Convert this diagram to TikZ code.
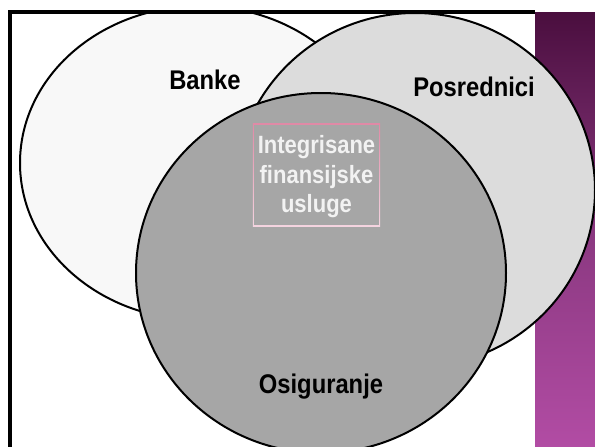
\documentclass[tikz,border=0pt]{standalone}
\usepackage{fontspec}
\newfontfamily\lab{Liberation Sans}[FakeStretch=0.88]
\usetikzlibrary{shapes.geometric}
\definecolor{bankefill}{HTML}{F8F8F8}
\definecolor{posfill}{HTML}{DCDCDC}
\definecolor{osifill}{HTML}{A6A6A6}
\definecolor{bandtop}{HTML}{4A0E3E}
\definecolor{bandmid}{HTML}{8A3880}
\definecolor{bandbot}{HTML}{B24CA4}
\definecolor{boxtop}{HTML}{E08AA6}
\definecolor{boxbot}{HTML}{F4D4E0}
\definecolor{boxtext}{HTML}{F2F2F2}
\begin{document}
\begin{tikzpicture}[x=1pt,y=-1pt,
  venn/.style={ellipse, draw=black, line width=2pt, inner sep=0pt},
  lbl/.style={font=\lab\bfseries\fontsize{27}{30}\selectfont, anchor=base, inner sep=0pt},
  boxlbl/.style={font=\lab\bfseries\fontsize{25}{28}\selectfont, text=boxtext, anchor=base, inner sep=0pt},
  frameline/.style={line width=3.5pt, line join=miter}]
\useasboundingbox (0,0) rectangle (595,447);
\fill[white] (0,0) rectangle (595,447);
\shade[top color=bandtop, bottom color=bandbot, middle color=bandmid] (535,12) rectangle (595,447);
\begin{scope}
  \clip (10,12) rectangle (600,452);
  \node[venn, fill=bankefill, minimum width=360pt, minimum height=314pt] (banke) at (200,163) {};
  \node[venn, fill=posfill, minimum width=360pt, minimum height=354pt] (posr) at (415,190) {};
  \node[venn, fill=osifill, minimum width=370pt, minimum height=360pt] (osig) at (321,273) {};
\end{scope}
\coordinate (fa) at (535,12);
\coordinate (fb) at (10,12);
\coordinate (fc) at (10,449);
\draw[frameline] (fa) -- (fb) -- (fc);
\node[minimum width=127pt, minimum height=102pt, inner sep=0pt] (box) at (316.5,175) {};
\shade[top color=boxtop, bottom color=boxbot] (box.north west) rectangle (box.south east);
\fill[osifill] ([xshift=1.3pt,yshift=-1.3pt]box.north west) rectangle ([xshift=-1.3pt,yshift=1.3pt]box.south east);
\node[boxlbl] (t1) at (316.5,153) {Integrisane};
\node[boxlbl] (t2) at (316.5,183) {finansijske};
\node[boxlbl] (t3) at (316.5,212) {usluge};
\node[lbl] (lb) at (205,89) {Banke};
\node[lbl] (lp) at (474,96) {Posrednici};
\node[lbl] (lo) at (321,393) {Osiguranje};
\end{tikzpicture}
\end{document}
